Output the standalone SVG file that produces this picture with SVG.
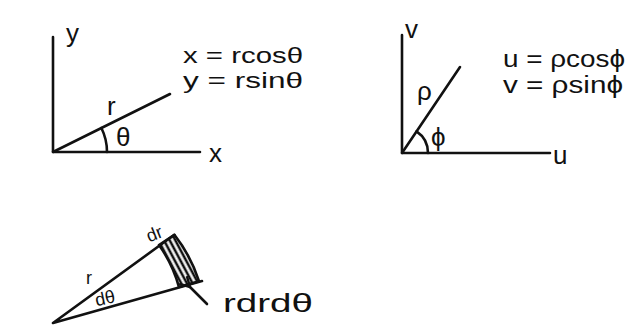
<svg xmlns="http://www.w3.org/2000/svg" width="631" height="328" viewBox="0 0 631 328">
<style>
.ln{fill:none;stroke:#111;stroke-width:2.6;stroke-linecap:round;stroke-linejoin:round}
.t{font-family:"Liberation Sans","DejaVu Sans",sans-serif;fill:#111}
.eq{font-size:22px}
.eq2{font-size:23px}
.lb{font-size:26px}
.sm{font-size:18px}
</style>
<defs>
<pattern id="hatch" width="5" height="10" patternUnits="userSpaceOnUse" patternTransform="rotate(-28)">
<rect width="5" height="10" fill="#fff"/>
<line x1="2" y1="0" x2="2" y2="10" stroke="#111" stroke-width="2.6"/>
</pattern>
<marker id="ah" markerWidth="12" markerHeight="12" refX="1" refY="6" orient="auto-start-reverse" markerUnits="userSpaceOnUse">
<path d="M10,1 L1,6 L10,11" fill="none" stroke="#111" stroke-width="2.4" stroke-linecap="round" stroke-linejoin="round"/>
</marker>
</defs>
<rect width="631" height="328" fill="#fff"/>

<g id="cartesian">
<path class="ln" d="M53,37 L53,152 L200,152"/>
<path class="ln" d="M53,152 L170,94"/>
<path class="ln" d="M107,152 A54,54 0 0 0 101.4,128"/>
<text class="t lb" x="66" y="42">y</text>
<text class="t lb" x="209" y="162">x</text>
<text class="t lb" x="107" y="115" font-size="22">r</text>
<text class="t lb" x="116" y="146" font-size="24">θ</text>
</g>

<g id="eq-xy">
<text class="t eq" x="183" y="63" textLength="120" lengthAdjust="spacingAndGlyphs">x = rcosθ</text>
<text class="t eq" x="183" y="88" textLength="120" lengthAdjust="spacingAndGlyphs">y = rsinθ</text>
</g>

<g id="polar">
<path class="ln" d="M402,35 L402,153 L550,153"/>
<path class="ln" d="M402,153 L460,67"/>
<path class="ln" d="M428,153 A26,26 0 0 0 416.5,131.4"/>
<text class="t lb" x="405" y="38" font-size="24">v</text>
<text class="t lb" x="553" y="164" font-size="24">u</text>
<text class="t lb" x="417" y="100" font-size="24">ρ</text>
<text class="t lb" x="431" y="146" font-size="25">ϕ</text>
</g>

<g id="eq-uv">
<text class="t eq2" x="503" y="67" textLength="122" lengthAdjust="spacingAndGlyphs">u = ρcosϕ</text>
<text class="t eq2" x="503" y="93" textLength="120" lengthAdjust="spacingAndGlyphs">v = ρsinϕ</text>
</g>

<g id="sector">
<path d="M159,245 L174.4,234.8 A150,150 0 0 1 199,281.2 L178.9,286.9 A131,131 0 0 0 159,245 Z" fill="url(#hatch)" stroke="#111" stroke-width="2.6" stroke-linejoin="round"/>
<path class="ln" d="M174.4,234.8 L53,323 L202,281"/>
<text class="t sm" x="146" y="240" transform="rotate(-22 154 233)">dr</text>
<text class="t sm" x="86" y="284">r</text>
<text class="t sm" x="95" y="304" transform="rotate(-12 106 298)">dθ</text>
</g>

<g id="label-area">
<text class="t lb" x="223" y="312" font-size="27" textLength="90" lengthAdjust="spacingAndGlyphs">rdrdθ</text>
</g>

<g id="connectors">
<line class="ln" x1="207" y1="304" x2="190" y2="287" marker-end="url(#ah)"/>
</g>
</svg>
